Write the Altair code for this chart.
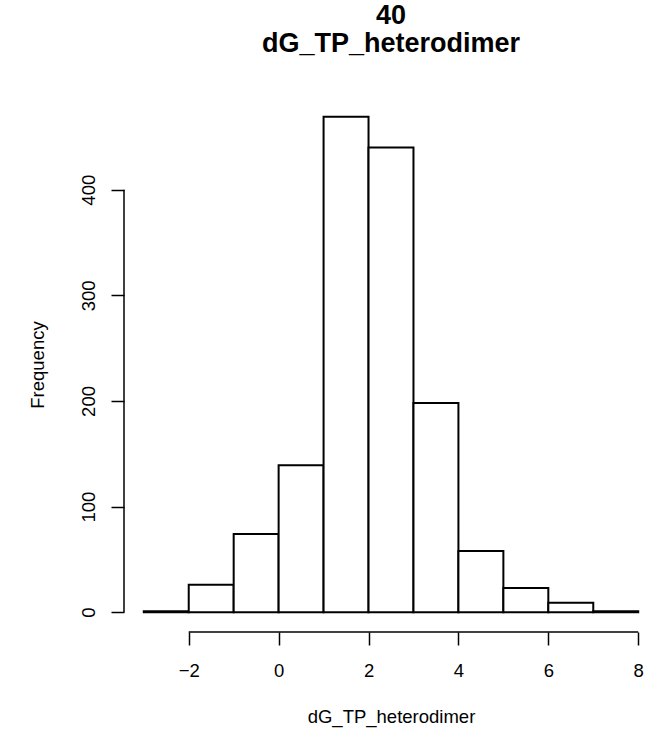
import altair as alt
import pandas as pd

bin_start = [-3, -2, -1, 0, 1, 2, 3, 4, 5, 6, 7]
bin_end = [-2, -1, 0, 1, 2, 3, 4, 5, 6, 7, 8]
counts = [1, 26, 74, 139, 469, 440, 198, 58, 23, 9, 1]
x_ticks = [-2, 0, 2, 4, 6, 8]
y_ticks = [0, 100, 200, 300, 400]
title_lines = ["40", "dG_TP_heterodimer"]
x_label = "dG_TP_heterodimer"
y_label = "Frequency"

FONT = "Liberation Sans"
FS = 18.5
W, H = 534, 535

bars_df = pd.DataFrame({"start": bin_start, "end": bin_end, "count": counts, "zero": [0] * len(counts)})

xmin, xmax = -3, 8
ymax = max(counts)
xs = alt.Scale(domain=[xmin - 0.04 * (xmax - xmin), xmax + 0.04 * (xmax - xmin)], nice=False, zero=False)
ys = alt.Scale(domain=[-0.04 * ymax, ymax * 1.04], nice=False, zero=False)

x_axis = alt.Axis(values=x_ticks, domain=False, grid=False, tickSize=13, tickWidth=1.5, tickColor="black",
                  labelFont=FONT, labelFontSize=FS, labelColor="black", labelPadding=16,
                  title=x_label, titleFont=FONT, titleFontSize=FS, titleFontWeight="normal",
                  titleColor="black", titlePadding=28, labelFlush=False)
y_axis = alt.Axis(values=y_ticks, domain=False, grid=False, tickSize=13, tickWidth=1.5, tickColor="black",
                  labelFont=FONT, labelFontSize=FS, labelColor="black", labelPadding=17,
                  labelAngle=270, labelAlign="center", labelBaseline="alphabetic",
                  title=y_label, titleFont=FONT, titleFontSize=FS, titleFontWeight="normal",
                  titleColor="black", titlePadding=32, labelFlush=False)

bars = alt.Chart(bars_df).mark_rect(fill="white", stroke="black", strokeWidth=2).encode(
    x=alt.X("start:Q", scale=xs, axis=x_axis),
    x2="end:Q",
    y=alt.Y("count:Q", scale=ys, axis=y_axis),
    y2="zero:Q",
)

xline_df = pd.DataFrame({"start": [min(x_ticks)], "end": [max(x_ticks)]})
xline = alt.Chart(xline_df).mark_rule(color="black", strokeWidth=1.5).encode(
    x=alt.X("start:Q", scale=xs, axis=x_axis), x2="end:Q", y=alt.value(H)
)
yline_df = pd.DataFrame({"count": [min(y_ticks)], "c2": [max(y_ticks)]})
yline = alt.Chart(yline_df).mark_rule(color="black", strokeWidth=1.5).encode(
    y=alt.Y("count:Q", scale=ys, axis=y_axis), y2="c2:Q", x=alt.value(0)
)

title_df = pd.DataFrame({"t": title_lines, "yy": [-81, -53]})
title = alt.Chart(title_df).mark_text(font=FONT, fontSize=27, fontWeight="bold", color="black",
                                      baseline="middle", align="center").encode(
    text="t:N", y=alt.Y("yy:Q", scale=None), x=alt.value(W / 2)
)

chart = alt.layer(bars, xline, yline, title).properties(
    width=W, height=H,
    autosize=alt.AutoSizeParams(type="none"),
    padding={"left": 124, "top": 97, "right": 0, "bottom": 111},
).configure(background="white", view=alt.ViewConfig(strokeWidth=0))

chart.save("out.html", embed_options={"renderer": "svg", "actions": False})
